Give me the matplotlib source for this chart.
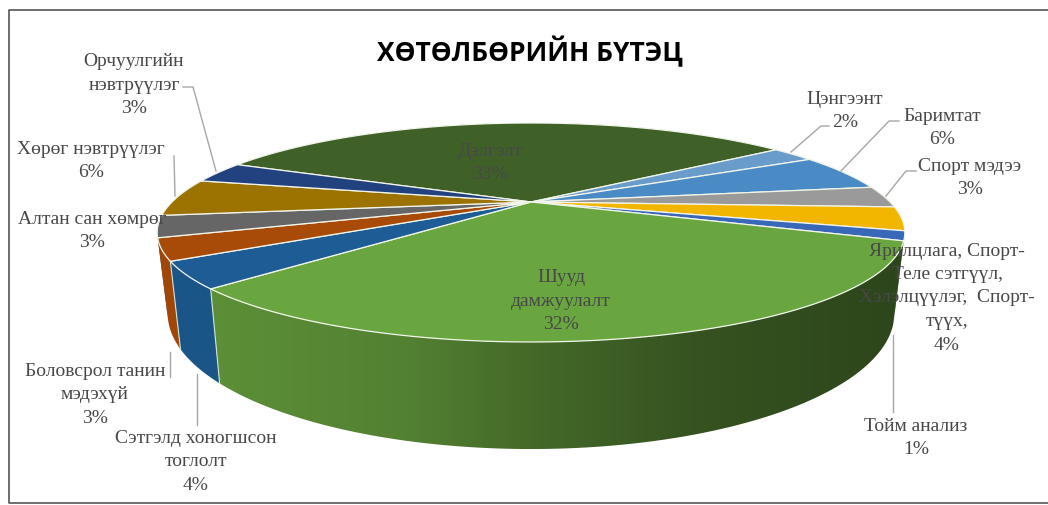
import numpy as np
import matplotlib
matplotlib.use('Agg')
import matplotlib.pyplot as plt
from matplotlib.patches import Polygon

plt.rcParams['font.family'] = ['Liberation Serif', 'DejaVu Serif']

# slices, clockwise from the left edge of the biggest one
names = ['Дэлгэлт', 'Цэнгээнт', 'Баримтат', 'Спорт мэдээ', 'Ярилцлага', 'Тойм анализ',
         'Шууд дамжуулалт', 'Сэтгэлд хоногшсон', 'Боловсрол', 'Алтан сан', 'Хөрөг', 'Орчуулгийн']
values = [33.0, 2.4, 5.5, 3.2, 3.5, 1.4, 32.2, 3.8, 3.2, 3.2, 5.6, 3.2]
colors = ['#3f6128', '#6a9ccb', '#4a8bc5', '#9a9a9a', '#f2b500', '#3a68b8',
          '#69a63f', '#1e5c95', '#a84a08', '#666666', '#9c7300', '#22427f']
wall_colors = ['#2f4a1e', '#507699', '#386994', '#747474', '#b68800', '#2c4e8a',
               '#5f9339', '#1b5588', '#a04708', '#4d4d4d', '#755600', '#1a3160']

# label text, text centre, leader line
labels = [
    ('Дэлгэлт\n33%', (490, 163), None),
    ('Цэнгээнт\n2%', (845, 111), [(791, 153), (821, 127), (829, 127)]),
    ('Баримтат\n6%', (942, 128), [(841, 172), (889, 122), (899, 122)]),
    ('Спорт мэдээ\n3%', (970, 178), [(886, 197), (906, 172), (916, 172)]),
    ('Ярилцлага, Спорт-\nТеле сэтгүүл,\nХэлэлцүүлэг,  Спорт-\nтүүх,\n4%', (947, 298), None),
    ('Тойм анализ\n1%', (916, 438), [(893, 336), (893, 413)]),
    ('Шууд\nдамжуулалт\n32%', (561, 301), None),
    ('Сэтгэлд хоногшсон\nтоглолт\n4%', (196, 462), [(197, 375), (197, 426)]),
    ('Боловсрол танин\nмэдэхүй\n3%', (95, 395), [(170, 353), (170, 378)]),
    ('Алтан сан хөмрөг\n3%', (92, 231), None),
    ('Хөрөг нэвтрүүлэг\n6%', (91, 161), [(175, 197), (174, 157)]),
    ('Орчуулгийн\nнэвтрүүлэг\n3%', (134, 85), [(216, 172), (193, 88), (183, 88)]),
]

title = 'ХӨТӨЛБӨРИЙН БҮТЭЦ'


# picture position of a pie angle, a circle seen in perspective
def rim(theta, cx=531, cy=203, a=359, b=101, k=0.2785):
    u, v = np.cos(theta), np.sin(theta)
    w = 1 + k * v
    return cx + a * u / w, cy - b * v / w


def lower(x, y, cx=531, cy=203):
    return cx + (x - cx) * 0.972, cy + (y - cy) * 1.2375 + 73.8


def wall_shade(x):
    # dark towards the right of the wall
    return np.interp(x, [150, 400, 525, 700, 905], [1.0, 0.88, 0.72, 0.56, 0.47])


fig = plt.figure(figsize=(10.48, 5.06), dpi=100)
ax = fig.add_axes([0, 0, 1, 1])
ax.set_xlim(0, 1048)
ax.set_ylim(506, 0)
ax.axis('off')

start = np.radians(155.7)
fracs = np.array(values) / sum(values)
edges = start - 2 * np.pi * np.concatenate([[0], np.cumsum(fracs)])

# side wall first, back slices before the front ones
order = np.argsort(-np.sin((edges[:-1] + edges[1:]) / 2))
for n, i in enumerate(order):
    t = np.linspace(edges[i], edges[i + 1], 120)
    x, y = rim(t)
    xb, yb = lower(x, y)
    outline = np.column_stack([np.r_[x, xb[::-1]], np.r_[y, yb[::-1]]])
    patch = Polygon(outline, closed=True, fc='none', ec='none')
    ax.add_patch(patch)
    xs = np.linspace(outline[:, 0].min(), outline[:, 0].max(), 200)
    base = np.array(matplotlib.colors.to_rgb(wall_colors[i]))
    if i == 6:
        grad = (wall_shade(xs)[:, None] * base)[None, :, :]
    else:
        grad = np.tile(base, (1, 200, 1))
    im = ax.imshow(grad, extent=[xs[0], xs[-1], outline[:, 1].max(), outline[:, 1].min()],
                   aspect='auto', zorder=2 + n * 0.01, interpolation='bilinear')
    im.set_clip_path(patch)
    if i in (7, 8):
        ax.plot([x[0], xb[0]], [y[0], yb[0]], color='#cfe6d8', lw=0.8, zorder=2.5)
ax.set_xlim(0, 1048)
ax.set_ylim(506, 0)

# top face
for i in range(len(values)):
    t = np.linspace(edges[i], edges[i + 1], 120)
    x, y = rim(t)
    pts = np.column_stack([np.r_[531, x], np.r_[203, y]])
    ax.add_patch(Polygon(pts, closed=True, fc=colors[i], ec='#f2f6ea', lw=0.9, zorder=3, joinstyle='round'))

for text, (tx, ty), line in labels:
    if line is not None:
        ax.plot(*zip(*line), color='#a6a6a6', lw=1, zorder=4)
    ax.text(tx, ty, text, ha='center', va='center', fontsize=14, color='#484848',
            linespacing=1.5, zorder=5)

ax.text(530, 52, title, ha='center', va='center', fontsize=19, fontweight='bold',
        family='Open Sans', color='#000000', zorder=5)

# chart border
ax.plot([1048, 9, 9, 1048], [11, 11, 504, 504], color='#555555', lw=1.2, zorder=6)

fig.savefig('out.png', dpi=100)
